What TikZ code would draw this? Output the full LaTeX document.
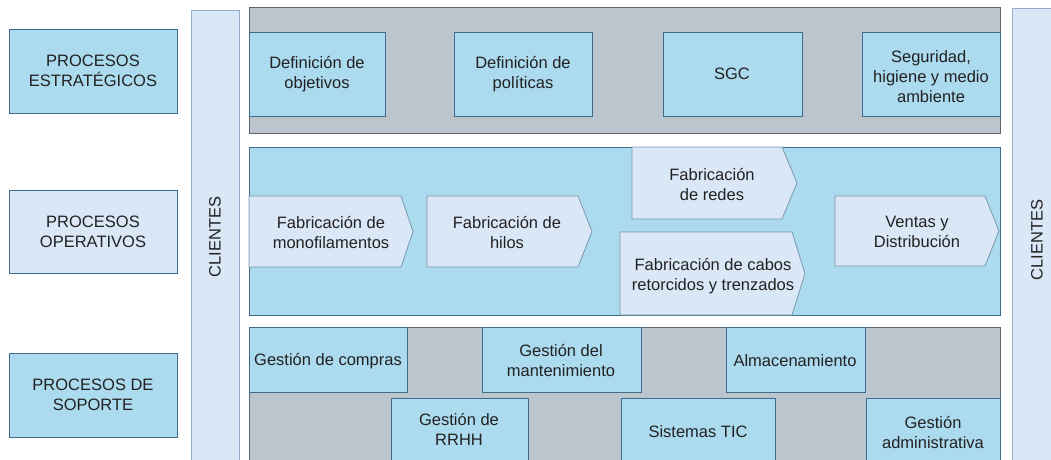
\documentclass[tikz,border=0pt]{standalone}
\usepackage{fontspec}
\setmainfont{Liberation Sans}
\definecolor{midblue}{RGB}{172,218,238}
\definecolor{lightblue}{RGB}{218,231,247}
\definecolor{grayband}{RGB}{188,197,206}
\definecolor{bordc}{RGB}{62,108,138}
\definecolor{grayborder}{RGB}{92,102,112}
\definecolor{lavborder}{RGB}{150,172,205}
\definecolor{textc}{RGB}{34,34,34}
\begin{document}
\begin{tikzpicture}[x=1pt,y=-1pt,
  txt/.style={text=textc, align=center, font=\fontsize{16.5}{20}\selectfont, inner sep=0pt},
  bluebox/.style={draw=bordc, fill=midblue, line width=1pt},
  lightbox/.style={draw=bordc, fill=lightblue, line width=1pt},
  graybox/.style={draw=grayborder, fill=grayband, line width=1pt},
  clientbar/.style={draw=lavborder, fill=lightblue, line width=1pt},
  chevbox/.style={draw=bordc!70, fill=lightblue, line width=0.8pt}]
\clip (0,0) rectangle (1051,459);
\fill[white] (0,0) rectangle (1051,459);
\newcommand\chev[6]{\draw[chevbox] (#1,#4) -- (#2,#4) -- (#3,{(#4+#5)/2}) -- (#2,#5) -- (#1,#5) -- cycle;}
% left labels
\draw[bluebox] (9,29) rectangle (177,113);
\node[txt] (pe) at (93,71) {PROCESOS\\ESTRATÉGICOS};
\draw[lightbox] (9,190) rectangle (177,273);
\node[txt] (pop) at (93,232) {PROCESOS\\OPERATIVOS};
\draw[bluebox] (9,353) rectangle (177,437);
\node[txt] (ps) at (93,395) {PROCESOS DE\\SOPORTE};
% clientes bars
\draw[clientbar] (191,10) rectangle (239,470);
\node[txt, rotate=90] (cl) at (215,237) {CLIENTES};
\draw[clientbar] (1012,8) rectangle (1062,470);
\node[txt, rotate=90] (cr) at (1037,240) {CLIENTES};
% strategic band
\draw[graybox] (249,7) rectangle (1000,133);
\draw[bluebox] (249,32) rectangle (385,116);
\node[txt] (obj) at (317,74) {Definición de\\objetivos};
\draw[bluebox] (454,32) rectangle (592,116);
\node[txt] (pol) at (523,74) {Definición de\\políticas};
\draw[bluebox] (663,32) rectangle (802,116);
\node[txt] (sgc) at (732,74) {SGC};
\draw[bluebox] (862,32) rectangle (1000,116);
\node[txt] (seg) at (931,77) {Seguridad,\\higiene y medio\\ambiente};
% operative band
\draw[bluebox] (249,147) rectangle (1000,315);
\chev{249}{401}{413}{196}{267}{}
\node[txt] (mono) at (331,232) {Fabricación de\\monofilamentos};
\chev{427}{578}{592}{196}{267}{}
\node[txt] (hilos) at (507,232) {Fabricación de\\hilos};
\chev{632}{782}{797}{147}{219}{}
\node[txt] (redes) at (712,184) {Fabricación\\de redes};
\chev{620}{792}{805}{232}{315}{}
\node[txt] (cabos) at (713,276) {Fabricación de cabos\\retorcidos y trenzados};
\chev{835}{985}{999}{196}{266}{}
\node[txt] (ventas) at (917,232) {Ventas y\\Distribución};
% support band
\draw[graybox] (249,327) rectangle (1000,470);
\draw[bluebox] (249,327) rectangle (407,392);
\node[txt] (comp) at (328,361) {Gestión de compras};
\draw[bluebox] (482,327) rectangle (641,392);
\node[txt] (mant) at (561,360) {Gestión del\\mantenimiento};
\draw[bluebox] (726,327) rectangle (865,392);
\node[txt] (alm) at (795,361) {Almacenamiento};
\draw[bluebox] (391,398) rectangle (528,470);
\node[txt] (rrhh) at (459,429) {Gestión de\\RRHH};
\draw[bluebox] (621,398) rectangle (775,470);
\node[txt] (tic) at (698,432) {Sistemas TIC};
\draw[bluebox] (866,398) rectangle (1000,470);
\node[txt] (adm) at (933,432) {Gestión\\administrativa};
\end{tikzpicture}
\end{document}
